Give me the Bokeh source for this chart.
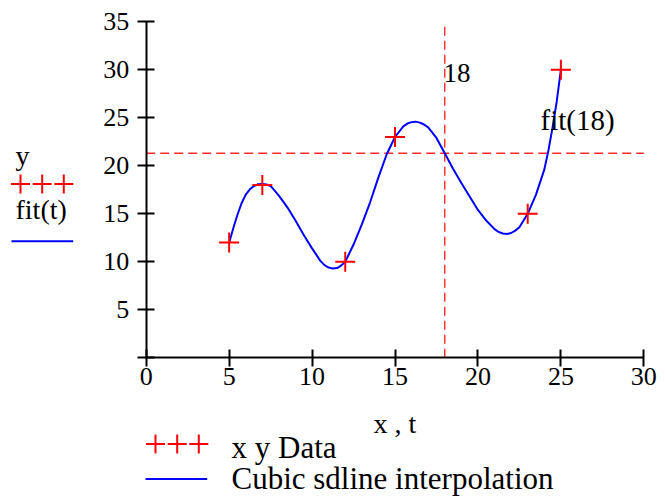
from bokeh.plotting import figure
from bokeh.models import FixedTicker, Range1d
from bokeh.core.properties import value
from bokeh.embed import file_html
from bokeh.resources import INLINE

# ---- data ----
x_data = [5, 7, 12, 15, 23, 25]
y_data = [12, 18, 10, 23, 15, 30]

fit_t = [5.0, 5.25, 5.5, 5.75, 6.0, 6.25, 6.5, 6.75, 7.0, 7.25, 7.5, 8.0, 8.5, 9.0,
         9.5, 10.0, 10.5, 10.75, 11.0, 11.25, 11.5, 11.75, 12.0, 12.5, 13.0, 13.5,
         14.0, 14.5, 15.0, 15.5, 15.75, 16.0, 16.25, 16.5, 16.75, 17.0, 17.5, 18.0,
         18.5, 19.0, 19.5, 20.0, 20.5, 21.0, 21.25, 21.5, 21.75, 22.0, 22.25, 22.5,
         23.0, 23.5, 24.0, 24.25, 24.5, 24.75, 25.0]
fit_y = [12.0, 13.5, 14.9, 16.1, 17.0, 17.55, 17.9, 18.08, 18.1, 18.05, 17.9, 16.9,
         15.7, 14.3, 12.8, 11.4, 10.1, 9.65, 9.4, 9.3, 9.35, 9.6, 10.0, 11.8, 13.9,
         16.2, 18.8, 21.2, 23.0, 24.1, 24.4, 24.55, 24.6, 24.5, 24.3, 24.0, 22.9,
         21.3, 19.7, 18.2, 16.8, 15.4, 14.3, 13.4, 13.1, 12.95, 12.9, 13.0, 13.25,
         13.6, 15.0, 17.0, 19.6, 21.6, 24.0, 26.7, 30.0]

x_ticks = [0, 5, 10, 15, 20, 25, 30]
y_ticks = [0, 5, 10, 15, 20, 25, 30, 35]

marker_t = 18
marker_label = "18"
fit_marker = 21.3
fit_marker_label = "fit(18)"

legend_y_name = "y"
legend_fit_name = "fit(t)"
legend_data_label = "x y Data"
legend_fit_label = "Cubic sdline interpolation"
x_axis_label = "x , t"

# ---- layout ----
W, H = 665, 498
X0_PX, X_SCALE = 145.7, 16.587
Y0_PX, Y_SCALE = 357.3, 9.6


def px2x(px):
    return (px - X0_PX) / X_SCALE


def py2y(py):
    return (Y0_PX - py) / Y_SCALE


FONT = value("Liberation Serif")
RED = "#ff0000"
BLUE = "#0000ff"
DASH = "#ff2a2a"
TXT_SHIFT = 0.38  # empirical baseline correction (em)


def text(px, py, s, size):
    p.text(x=[px2x(px)], y=[py2y(py - TXT_SHIFT * size)], text=[s],
           text_font=FONT, text_font_size=value(f"{size}px"), text_color="black",
           text_align="left", text_baseline="alphabetic")


p = figure(width=W, height=H, output_backend="svg", toolbar_location=None,
           x_range=Range1d(px2x(0), px2x(W)), y_range=Range1d(py2y(H), py2y(0)),
           min_border=0)
p.min_border_left = p.min_border_right = p.min_border_top = p.min_border_bottom = 0
p.outline_line_color = None
p.grid.visible = False
p.background_fill_color = "white"
p.border_fill_color = "white"

# axes crossing at the origin
for ax, ticks, bnd in ((p.xaxis, x_ticks, (0, 30)), (p.yaxis, y_ticks, (0, 35))):
    ax.fixed_location = 0
    ax.bounds = bnd
    ax.ticker = FixedTicker(ticks=ticks)
    ax.minor_tick_line_color = None
    ax.major_tick_in = 8
    ax.major_tick_out = 9
    ax.axis_line_width = 2
    ax.major_tick_line_width = 2
    ax.axis_line_color = "black"
    ax.major_tick_line_color = "black"
    ax.major_label_text_font = "Liberation Serif"
    ax.major_label_text_font_size = "26px"
    ax.major_label_text_color = "black"

p.xaxis.major_label_standoff = 1
p.yaxis.major_label_standoff = 8
p.yaxis.major_label_overrides = {0: ""}
p.xaxis.axis_label = x_axis_label
p.xaxis.axis_label_text_font = "Liberation Serif"
p.xaxis.axis_label_text_font_size = "28px"
p.xaxis.axis_label_text_font_style = "normal"
p.xaxis.axis_label_text_color = "black"
p.xaxis.axis_label_standoff = 20

# marker lines
p.segment(x0=[0], y0=[fit_marker], x1=[30], y1=[fit_marker],
          line_color=DASH, line_width=1.4, line_dash="9 5")
p.segment(x0=[marker_t], y0=[0], x1=[marker_t], y1=[35],
          line_color=DASH, line_width=1.4, line_dash="9 5")

# curve and data
p.line(fit_t, fit_y, line_color=BLUE, line_width=2)
p.scatter(x_data, y_data, marker="cross", size=20, line_color=RED, line_width=2)

# marker value labels
text(443, 82.5, marker_label, 27)
text(540, 131, fit_marker_label, 29)

# left (y-axis) legend
text(15, 166, legend_y_name, 28)
p.scatter([px2x(20), px2x(41.7), px2x(63.3)], [py2y(183.5)] * 3, marker="cross",
          size=19, line_color=RED, line_width=2)
text(15, 220, legend_fit_name, 28)
p.line([px2x(11), px2x(72.7)], [py2y(240.7)] * 2, line_color=BLUE, line_width=2)

# bottom legend
p.scatter([px2x(155), px2x(176.7), px2x(198.3)], [py2y(443.5)] * 3, marker="cross",
          size=19, line_color=RED, line_width=2)
text(231, 459, legend_data_label, 31)
p.line([px2x(145), px2x(206.7)], [py2y(478.5)] * 2, line_color=BLUE, line_width=2)
text(231, 489.5, legend_fit_label, 31)

open("out.html", "w").write(file_html(p, INLINE))
